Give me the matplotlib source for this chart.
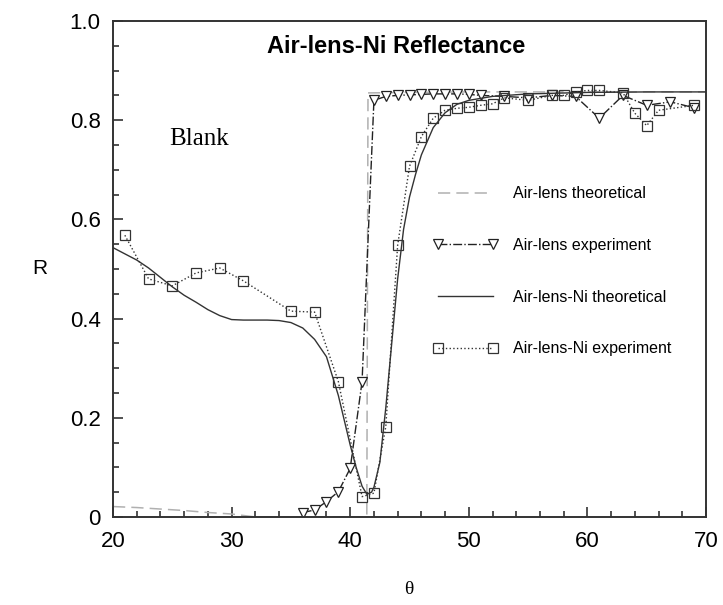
import numpy as np
import matplotlib
matplotlib.use("Agg")
import matplotlib.pyplot as plt
from matplotlib.ticker import MultipleLocator

# Air-lens theoretical (grey dashed)
air_th_x = [20, 22, 24, 26, 28, 30, 31, 32, 36, 40, 41.4, 41.5, 45, 50, 60, 70]
air_th_y = [0.021, 0.019, 0.016, 0.013, 0.009, 0.006, 0.003, 0.0, 0.0, 0.0, 0.0, 0.855, 0.856, 0.857, 0.857, 0.857]

# Air-lens experiment (triangles, dash-dot)
air_ex_x = [36, 37, 38, 39, 40, 41, 42, 43, 44, 45, 46, 47, 48, 49, 50, 51, 53, 55, 57, 59, 61, 63, 65, 67, 69]
air_ex_y = [0.009, 0.014, 0.031, 0.051, 0.098, 0.273, 0.84, 0.848, 0.85, 0.851, 0.852, 0.853, 0.853, 0.853,
            0.852, 0.85, 0.848, 0.845, 0.85, 0.848, 0.804, 0.85, 0.83, 0.837, 0.825]

# Air-lens-Ni theoretical (solid)
ni_th_x = [20, 22, 23, 24, 25, 26, 27, 28, 29, 30, 31, 32, 33, 34, 35, 36, 37, 38, 39, 40, 40.5, 41, 41.4,
           41.8, 42, 42.5, 43, 43.5, 44, 44.5, 45, 45.5, 46, 47, 48, 49, 50, 52, 55, 60, 65, 70]
ni_th_y = [0.543, 0.518, 0.502, 0.483, 0.464, 0.447, 0.433, 0.418, 0.406, 0.398, 0.397, 0.397, 0.397, 0.396,
           0.392, 0.381, 0.358, 0.323, 0.245, 0.145, 0.1, 0.062, 0.046, 0.05, 0.06, 0.11, 0.22, 0.35, 0.48,
           0.58, 0.645, 0.69, 0.73, 0.785, 0.815, 0.832, 0.84, 0.848, 0.853, 0.856, 0.857, 0.857]

# Air-lens-Ni experiment (squares, dotted)
ni_ex_x = [21, 23, 25, 27, 29, 31, 35, 37, 39, 41, 42, 43, 44, 45, 46, 47, 48, 49, 50, 51, 52, 53, 55,
           57, 58, 59, 60, 61, 63, 64, 65, 66, 69]
ni_ex_y = [0.568, 0.48, 0.466, 0.492, 0.502, 0.476, 0.415, 0.413, 0.273, 0.041, 0.048, 0.182, 0.548, 0.707,
           0.767, 0.804, 0.82, 0.824, 0.826, 0.83, 0.833, 0.845, 0.84, 0.85, 0.85, 0.857, 0.86, 0.86, 0.855,
           0.814, 0.789, 0.82, 0.83]

yticks = [0, 0.2, 0.4, 0.6, 0.8, 1.0]
yticklabels = ["0", "0.2", "0.4", "0.6", "0.8", "1.0"]
xticks = [20, 30, 40, 50, 60, 70]

plt.rcParams['font.family'] = ['Liberation Sans', 'DejaVu Sans']

fig = plt.figure(figsize=(7.23, 6.05), dpi=100)
ax = fig.add_axes([0.1563, 0.1455, 0.8202, 0.8198])

ax.plot(air_th_x, air_th_y, color='#b0b0b0', ls=(0, (8, 4)), lw=1.1, label='Air-lens theoretical')
ax.plot(air_ex_x, air_ex_y, color='#222222', ls='-.', lw=1.0, marker='v', ms=6.5, mfc='white', mec='#222222',
        mew=0.9, label='Air-lens experiment')
ax.plot(ni_th_x, ni_th_y, color='#333333', ls='-', lw=1.0, label='Air-lens-Ni theoretical')
ax.plot(ni_ex_x, ni_ex_y, color='#333333', ls=':', lw=1.0, marker='s', ms=7.3, mfc='none', mec='#333333',
        mew=0.9, label='Air-lens-Ni experiment')

ax.set_xlim(20, 70)
ax.set_ylim(0, 1.0)
ax.set_xticks(xticks)
ax.set_yticks(yticks)
ax.set_yticklabels(yticklabels)
ax.xaxis.set_minor_locator(MultipleLocator(2))
ax.yaxis.set_minor_locator(MultipleLocator(0.05))
ax.tick_params(which='both', direction='in', top=False, right=False, colors='#333333',
               labelcolor='black', labelsize=16, width=1.2)
ax.tick_params(which='major', length=7)
ax.tick_params(which='minor', length=4)
ax.tick_params(axis='x', pad=10)
ax.tick_params(axis='y', pad=9)
for s in ax.spines.values():
    s.set_color('#333333')
    s.set_linewidth(1.4)

ax.text(0.477, 0.948, 'Air-lens-Ni Reflectance', transform=ax.transAxes, ha='center', va='center',
        fontsize=17, fontweight='bold')
ax.text(0.145, 0.762, 'Blank', transform=ax.transAxes, ha='center', va='center',
        fontsize=18, family='Liberation Serif')

fig.text(0.055, 0.556, 'R', ha='center', va='center', fontsize=15)
fig.text(0.566, 0.025, 'θ', ha='center', va='center', fontsize=14, family='Liberation Serif')

ax.legend(loc='upper left', bbox_to_anchor=(0.527, 0.683), frameon=False, fontsize=11.5, numpoints=2,
          handlelength=4.0, handletextpad=1.0, labelspacing=2.3, borderpad=0)

fig.savefig('out.png', dpi=100)
